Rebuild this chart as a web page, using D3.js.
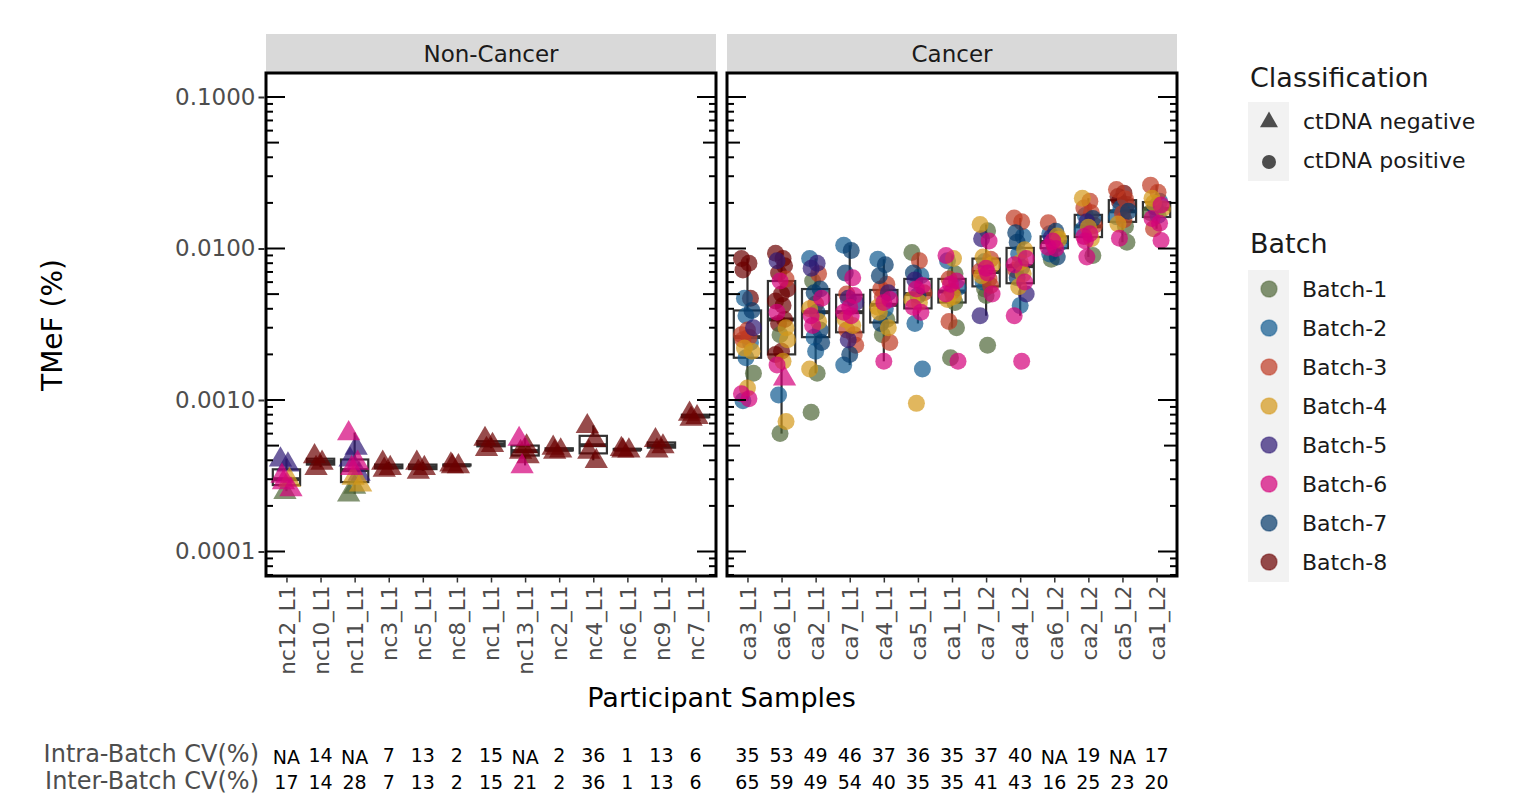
<!DOCTYPE html>
<html>
<head>
<meta charset="utf-8">
<script src="https://cdn.jsdelivr.net/npm/d3@7"></script>
<style>
  body { margin: 0; background: #fff; }
  svg { font-family: "DejaVu Sans", Verdana, sans-serif; }
</style>
</head>
<body>
<div id="chart"></div>
<script>

const ncSamples = ["nc12_L1", "nc10_L1", "nc11_L1", "nc3_L1", "nc5_L1", "nc8_L1", "nc1_L1", "nc13_L1", "nc2_L1", "nc4_L1", "nc6_L1", "nc9_L1", "nc7_L1"];
const caSamples = ["ca3_L1", "ca6_L1", "ca2_L1", "ca7_L1", "ca4_L1", "ca5_L1", "ca1_L1", "ca7_L2", "ca4_L2", "ca6_L2", "ca2_L2", "ca5_L2", "ca1_L2"];

const ncIntraCV = ["NA", "14", "NA", "7", "13", "2", "15", "NA", "2", "36", "1", "13", "6"];
const ncInterCV = ["17", "14", "28", "7", "13", "2", "15", "21", "2", "36", "1", "13", "6"];
const caIntraCV = ["35", "53", "49", "46", "37", "36", "35", "37", "40", "NA", "19", "NA", "17"];
const caInterCV = ["65", "59", "49", "54", "40", "35", "35", "41", "43", "16", "25", "23", "20"];

const batchNames = ["Batch-1", "Batch-2", "Batch-3", "Batch-4", "Batch-5", "Batch-6", "Batch-7", "Batch-8"];
const batchColors = ["#4f6638", "#0f5a90", "#bf3a24", "#d4981a", "#2f1a75", "#d4007a", "#053a6b", "#6b0000"];
const yTicks = [0.0001, 0.001, 0.01, 0.1];

// TMeF (%) per replicate: [value, batch, classification if ctDNA negative]
const ncPoints = [
    [[0.00041, 5], [0.00038, 5], [0.00032, 6], [0.00030, 4], [0.00029, 6], [0.00026, 6], [0.00025, 1]],
    [[0.00043, 8], [0.00039, 8], [0.00036, 8]],
    [[0.00061, 6], [0.00049, 5], [0.00041, 5], [0.00039, 6], [0.00036, 6], [0.00033, 5], [0.00031, 4], [0.00028, 4], [0.00027, 1], [0.00024, 1]],
    [[0.00039, 8], [0.00036, 8], [0.00035, 8]],
    [[0.00039, 8], [0.00036, 8], [0.00034, 8]],
    [[0.00038, 8], [0.00037, 8], [0.00037, 8]],
    [[0.00056, 8], [0.00051, 8], [0.00048, 8]],
    [[0.00056, 6], [0.00050, 8], [0.00046, 8], [0.00043, 8], [0.00037, 6]],
    [[0.00049, 8], [0.00047, 8], [0.00046, 8]],
    [[0.00068, 8], [0.00055, 8], [0.00046, 8], [0.00040, 8]],
    [[0.00048, 8], [0.00047, 8], [0.00047, 8]],
    [[0.00055, 8], [0.00050, 8], [0.00047, 8]],
    [[0.00082, 8], [0.00078, 8], [0.00076, 8]]
];

const caPoints = [
    [[0.0086, 8], [0.0080, 8], [0.0072, 8], [0.0047, 8], [0.0047, 2], [0.0039, 7], [0.0036, 2], [0.0030, 5], [0.0029, 3], [0.0027, 3], [0.0026, 3], [0.0025, 3], [0.0024, 2], [0.0022, 4], [0.0021, 4], [0.0019, 2], [0.0015, 1], [0.0012, 4], [0.0011, 6], [0.00102, 6], [0.00099, 2]],
    [[0.0093, 8], [0.0086, 8], [0.0083, 5], [0.0077, 8], [0.0069, 8], [0.0063, 3], [0.0061, 6], [0.0054, 8], [0.0050, 8], [0.0045, 8], [0.0042, 8], [0.0038, 6], [0.0034, 8], [0.0032, 8], [0.0030, 4], [0.0027, 1], [0.0025, 4], [0.0021, 8], [0.0020, 8], [0.0018, 4], [0.0017, 6], [0.0014, 6, "neg"], [0.00108, 2], [0.00072, 4], [0.00060, 1]],
    [[0.0086, 2], [0.0080, 5], [0.0074, 5], [0.0068, 3], [0.0061, 1], [0.0054, 7], [0.0051, 7], [0.0047, 6], [0.0043, 3], [0.0040, 4], [0.0038, 7], [0.0036, 6], [0.0033, 4], [0.0031, 6], [0.0029, 7], [0.0026, 2], [0.0024, 7], [0.0021, 2], [0.0016, 4], [0.0015, 1], [0.00083, 1]],
    [[0.0105, 2], [0.0097, 7], [0.0069, 7], [0.0064, 6], [0.0050, 3], [0.0049, 6], [0.0047, 5], [0.0044, 5], [0.0041, 6], [0.0038, 6], [0.0036, 6], [0.0034, 4], [0.0031, 4], [0.0029, 3], [0.0027, 3], [0.0025, 5], [0.0023, 3], [0.0020, 7], [0.0017, 2]],
    [[0.0085, 2], [0.0078, 7], [0.0066, 7], [0.0058, 3], [0.0054, 3], [0.0051, 5], [0.0048, 3], [0.0046, 6], [0.0044, 6], [0.0041, 4], [0.0040, 2], [0.0038, 4], [0.0034, 1], [0.0032, 7], [0.0030, 4], [0.0027, 1], [0.0024, 3], [0.0018, 6]],
    [[0.0094, 1], [0.0083, 3], [0.0069, 7], [0.0066, 2], [0.0062, 5], [0.0057, 6], [0.0054, 6], [0.0051, 3], [0.0049, 7], [0.0046, 4], [0.0044, 4], [0.0041, 6], [0.0038, 6], [0.0032, 2], [0.0016, 2], [0.00095, 4]],
    [[0.0090, 6], [0.0086, 4], [0.0083, 2], [0.0068, 1], [0.0063, 3], [0.0061, 6], [0.0058, 6], [0.0055, 2], [0.0052, 3], [0.0050, 6], [0.0048, 4], [0.0046, 4], [0.0044, 1], [0.0033, 3], [0.0030, 1], [0.0019, 1], [0.0018, 6]],
    [[0.0144, 4], [0.0131, 1], [0.0116, 5], [0.0112, 6], [0.0088, 4], [0.0085, 3], [0.0082, 2], [0.0078, 4], [0.0074, 6], [0.0071, 3], [0.0069, 6], [0.0066, 4], [0.0063, 3], [0.0060, 2], [0.0057, 3], [0.0054, 1], [0.0050, 6], [0.0049, 1], [0.0036, 5], [0.0023, 1]],
    [[0.0159, 3], [0.0150, 3], [0.0127, 7], [0.0120, 2], [0.0110, 7], [0.0098, 4], [0.0092, 2], [0.0086, 6], [0.0081, 4], [0.0078, 6], [0.0075, 5], [0.0072, 3], [0.0068, 4], [0.0064, 7], [0.0060, 6], [0.0056, 4], [0.0050, 5], [0.0042, 2], [0.0036, 6], [0.0018, 6]],
    [[0.0148, 3], [0.0130, 7], [0.0125, 2], [0.0121, 4], [0.0118, 5], [0.0115, 4], [0.0112, 6], [0.0109, 2], [0.0105, 3], [0.0102, 6], [0.0100, 6], [0.0092, 2], [0.0088, 7], [0.0085, 1]],
    [[0.0215, 4], [0.0205, 3], [0.0185, 3], [0.0172, 3], [0.0165, 2], [0.0158, 7], [0.0150, 5], [0.0142, 3], [0.0138, 4], [0.0133, 2], [0.0125, 6], [0.0120, 6], [0.0116, 4], [0.0112, 6], [0.0090, 1], [0.0088, 6]],
    [[0.0245, 3], [0.0232, 8], [0.0220, 8], [0.0212, 3], [0.0205, 8], [0.0195, 8], [0.0185, 2], [0.0176, 7], [0.0170, 3], [0.0162, 2], [0.0155, 3], [0.0145, 4], [0.0140, 1], [0.0117, 6], [0.0110, 1]],
    [[0.0262, 3], [0.0235, 3], [0.0215, 4], [0.0205, 2], [0.0200, 4], [0.0194, 6], [0.0188, 7], [0.0183, 4], [0.0178, 2], [0.0172, 1], [0.0165, 2], [0.0158, 6], [0.0147, 6], [0.0135, 3], [0.0113, 6]]
];

const W = 1513, H = 796;
const panelTop = 73, panelBottom = 576;
const panels = [
    { name: "Non-Cancer", x0: 266, x1: 716, samples: ncSamples, points: ncPoints, intra: ncIntraCV, inter: ncInterCV, negative: true },
    { name: "Cancer", x0: 727, x1: 1177, samples: caSamples, points: caPoints, intra: caIntraCV, inter: caInterCV, negative: false }
];
const drawOrder = [8, 1, 2, 3, 7, 5, 4, 6];
const ptAlpha = 0.7;

const svg = d3.select("#chart").append("svg")
    .attr("width", W)
    .attr("height", H);

const y = d3.scaleLog()
    .domain([0.0001, 0.1])
    .range([551.5, 97]);
const yMin = y.invert(panelBottom), yMax = y.invert(panelTop);

// box stats computed on log10 values (as with a log10 scale)
function boxStats(vals) {
    const lv = vals.map(v => Math.log10(v)).sort(d3.ascending);
    const q1 = d3.quantile(lv, 0.25), med = d3.quantile(lv, 0.5), q3 = d3.quantile(lv, 0.75);
    const iqr = q3 - q1;
    const inside = lv.filter(v => v >= q1 - 1.5 * iqr && v <= q3 + 1.5 * iqr);
    return {
        q1: 10 ** q1, med: 10 ** med, q3: 10 ** q3,
        lo: 10 ** d3.min(inside), hi: 10 ** d3.max(inside)
    };
}

const triangle = d3.symbol().type(d3.symbolTriangle).size(235);

panels.forEach(p => {
    const x = d3.scalePoint()
        .domain(p.samples)
        .range([p.x0, p.x1])
        .padding(0.6);
    const bw = x.step() * 0.8;

    const g = svg.append("g");

    // strip
    g.append("rect")
        .attr("x", p.x0)
        .attr("y", 34)
        .attr("width", p.x1 - p.x0)
        .attr("height", panelTop - 34)
        .attr("fill", "#d9d9d9");
    g.append("text")
        .attr("x", (p.x0 + p.x1) / 2)
        .attr("y", 53.5)
        .attr("dy", "0.35em")
        .attr("text-anchor", "middle")
        .attr("font-size", 23)
        .attr("fill", "#1a1a1a")
        .text(p.name);

    // boxplots
    p.samples.forEach((s, i) => {
        const st = boxStats(p.points[i].map(d => d[0]));
        const cx = x(s);
        const bg = g.append("g").attr("stroke", "#333333");
        bg.append("line")
            .attr("x1", cx).attr("x2", cx)
            .attr("y1", y(st.hi)).attr("y2", y(st.q3))
            .attr("stroke-width", 2.2);
        bg.append("line")
            .attr("x1", cx).attr("x2", cx)
            .attr("y1", y(st.q1)).attr("y2", y(st.lo))
            .attr("stroke-width", 2.2);
        bg.append("rect")
            .attr("x", cx - bw / 2)
            .attr("y", y(st.q3))
            .attr("width", bw)
            .attr("height", Math.max(0.1, y(st.q1) - y(st.q3)))
            .attr("fill", "none")
            .attr("stroke-width", 2.2);
        bg.append("line")
            .attr("x1", cx - bw / 2).attr("x2", cx + bw / 2)
            .attr("y1", y(st.med)).attr("y2", y(st.med))
            .attr("stroke-width", 4);
    });

    // points
    const pts = [];
    p.samples.forEach((s, i) => {
        p.points[i].forEach((d, j) => {
            pts.push({ sample: s, v: d[0], batch: d[1], neg: p.negative || d[2] === "neg", j });
        });
    });
    pts.sort((a, b) => drawOrder.indexOf(a.batch) - drawOrder.indexOf(b.batch));

    pts.forEach(d => {
        const jit = ((d.j * 5) % 9 - 4) * 1.5;
        const col = batchColors[d.batch - 1];
        if (d.neg) {
            g.append("path")
                .attr("d", triangle)
                .attr("transform", `translate(${x(d.sample) + jit},${y(d.v) + 1})`)
                .attr("fill", col)
                .attr("fill-opacity", ptAlpha);
        } else {
            g.append("circle")
                .attr("cx", x(d.sample) + jit)
                .attr("cy", y(d.v))
                .attr("r", 8.5)
                .attr("fill", col)
                .attr("fill-opacity", ptAlpha);
        }
    });

    // log ticks inside both sides
    const logTicks = [];
    for (let k = -5; k <= -1; k++) {
        for (let m = 1; m <= 9; m++) {
            const v = m * 10 ** k;
            if (v >= yMin && v <= yMax) logTicks.push({ v, len: m === 1 ? 19 : (m === 5 ? 13 : 7) });
        }
    }
    logTicks.forEach(t => {
        g.append("line")
            .attr("x1", p.x0).attr("x2", p.x0 + t.len)
            .attr("y1", y(t.v)).attr("y2", y(t.v))
            .attr("stroke", "black").attr("stroke-width", 2);
        g.append("line")
            .attr("x1", p.x1).attr("x2", p.x1 - t.len)
            .attr("y1", y(t.v)).attr("y2", y(t.v))
            .attr("stroke", "black").attr("stroke-width", 2);
    });

    // panel border
    g.append("rect")
        .attr("x", p.x0)
        .attr("y", panelTop)
        .attr("width", p.x1 - p.x0)
        .attr("height", panelBottom - panelTop)
        .attr("fill", "none")
        .attr("stroke", "black")
        .attr("stroke-width", 3);

    // x axis
    const xAxis = g.append("g")
        .attr("transform", `translate(0,${panelBottom + 1.5})`)
        .call(d3.axisBottom(x).tickSize(5).tickSizeOuter(0));
    xAxis.select(".domain").remove();
    xAxis.selectAll(".tick line").attr("stroke", "#333333").attr("stroke-width", 1.5);
    xAxis.selectAll(".tick text")
        .attr("font-size", 21.5)
        .attr("font-family", "DejaVu Sans")
        .attr("fill", "#4d4d4d")
        .attr("text-anchor", "end")
        .attr("transform", "rotate(-90)")
        .attr("x", -8)
        .attr("y", 0)
        .attr("dy", "0.36em");

    // CV rows
    [[p.intra, 762], [p.inter, 789]].forEach(([vals, yy]) => {
        g.selectAll(null)
            .data(vals)
            .enter()
            .append("text")
            .attr("x", (d, i) => x(p.samples[i]))
            .attr("y", d => d === "NA" ? yy + 2 : yy)
            .attr("text-anchor", "middle")
            .attr("font-size", 19)
            .attr("fill", "black")
            .text(d => d);
    });
});

// y axis on the left panel
const yAxis = svg.append("g")
    .attr("transform", `translate(${panels[0].x0 - 1.5},0)`)
    .call(d3.axisLeft(y).tickValues(yTicks).tickFormat(d3.format(".4f")).tickSize(6));
yAxis.select(".domain").remove();
yAxis.selectAll(".tick line").attr("stroke", "#333333").attr("stroke-width", 2);
yAxis.selectAll(".tick text")
    .attr("font-size", 23)
    .attr("font-family", "DejaVu Sans")
    .attr("fill", "#4d4d4d")
    .attr("x", -9);

// axis titles
svg.append("text")
    .attr("text-anchor", "middle")
    .attr("transform", "rotate(-90)")
    .attr("x", -325)
    .attr("y", 52)
    .attr("dy", "0.35em")
    .attr("font-size", 28)
    .text("TMeF (%)");

svg.append("text")
    .attr("text-anchor", "middle")
    .attr("x", (panels[0].x0 + panels[1].x1) / 2)
    .attr("y", 707)
    .attr("font-size", 27)
    .text("Participant Samples");

// CV row labels
["Intra-Batch CV(%)", "Inter-Batch CV(%)"].forEach((t, i) => {
    svg.append("text")
        .attr("x", 259)
        .attr("y", 762 + i * 27)
        .attr("text-anchor", "end")
        .attr("font-size", 24)
        .attr("fill", "#4d4d4d")
        .text(t);
});

// legends
const leg = svg.append("g").attr("transform", "translate(1248,0)");
leg.append("text")
    .attr("x", 2).attr("y", 78).attr("dy", "0.35em")
    .attr("font-size", 27).attr("fill", "#1a1a1a")
    .text("Classification");
leg.append("rect")
    .attr("x", 0).attr("y", 102)
    .attr("width", 41).attr("height", 79)
    .attr("fill", "#f2f2f2");
leg.append("path")
    .attr("d", d3.symbol().type(d3.symbolTriangle).size(140))
    .attr("transform", "translate(21,122)")
    .attr("fill", "#4d4d4d");
leg.append("circle")
    .attr("cx", 21).attr("cy", 162).attr("r", 7)
    .attr("fill", "#4d4d4d");
["ctDNA negative", "ctDNA positive"].forEach((t, i) => {
    leg.append("text")
        .attr("x", 55).attr("y", 121 + i * 39).attr("dy", "0.35em")
        .attr("font-size", 22).attr("fill", "#1a1a1a")
        .text(t);
});

leg.append("text")
    .attr("x", 2).attr("y", 244).attr("dy", "0.35em")
    .attr("font-size", 27).attr("fill", "#1a1a1a")
    .text("Batch");
leg.append("rect")
    .attr("x", 0).attr("y", 270)
    .attr("width", 41).attr("height", 312)
    .attr("fill", "#f2f2f2");
batchNames.forEach((b, i) => {
    leg.append("circle")
        .attr("cx", 21).attr("cy", 289 + i * 39).attr("r", 8)
        .attr("fill", batchColors[i])
        .attr("fill-opacity", ptAlpha)
        .attr("stroke", batchColors[i])
        .attr("stroke-opacity", 0.45)
        .attr("stroke-width", 1.5);
    leg.append("text")
        .attr("x", 54).attr("y", 289 + i * 39).attr("dy", "0.35em")
        .attr("font-size", 22).attr("fill", "#1a1a1a")
        .text(b);
});
</script>
</body>
</html>
